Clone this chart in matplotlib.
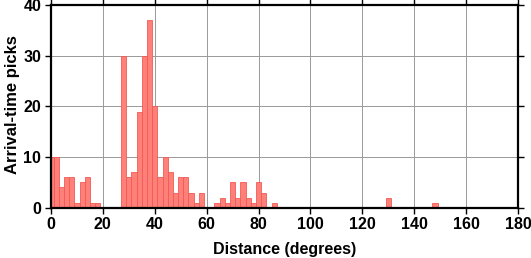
import matplotlib
matplotlib.use('Agg')
import matplotlib.pyplot as plt
import numpy as np

plt.rcParams['font.family'] = ['Liberation Sans', 'DejaVu Sans']
plt.rcParams['font.weight'] = 'bold'

# bin edges on odd degrees, 2 degree wide bins (centres on even degrees)
bin_centres = np.arange(0, 182, 2)
counts = np.zeros(len(bin_centres))
picks = {0: 10, 2: 10, 4: 4, 6: 6, 8: 6, 10: 1, 12: 5, 14: 6, 16: 1, 18: 1,
         28: 30, 30: 6, 32: 7, 34: 19, 36: 30, 38: 37, 40: 20, 42: 6, 44: 10,
         46: 7, 48: 3, 50: 6, 52: 6, 54: 3, 56: 1, 58: 3,
         64: 1, 66: 2, 68: 1, 70: 5, 72: 2, 74: 5, 76: 2, 78: 1, 80: 5, 82: 3,
         86: 1, 130: 2, 148: 1}
for c, n in picks.items():
    counts[c // 2] = n

fig = plt.figure(figsize=(5.31, 2.58), dpi=100)
ax = fig.add_axes([0.096, 0.195, 0.8795, 0.7845])

ax.bar(bin_centres, counts, width=2, color='#ff8078', edgecolor='#f25a55',
       linewidth=0.6, zorder=2)

ax.set_xlim(0, 180)
ax.set_ylim(0, 40)
ax.set_xticks(np.arange(0, 181, 20))
ax.set_yticks(np.arange(0, 41, 10))
ax.grid(True, color='#999999', linewidth=0.7, zorder=0)
ax.set_axisbelow(True)
ax.tick_params(direction='out', length=4, width=1, top=True, right=True,
               labelsize=11.5, pad=3)
for s in ax.spines.values():
    s.set_linewidth(1.6)
    s.set_zorder(3)

ax.set_xlabel('Distance (degrees)', fontsize=11.5, fontweight='bold', labelpad=7)
ax.set_ylabel('Arrival-time picks', fontsize=12, fontweight='bold')
ax.yaxis.set_label_coords(-0.066, 0.51)

fig.savefig('out.png', dpi=100)
